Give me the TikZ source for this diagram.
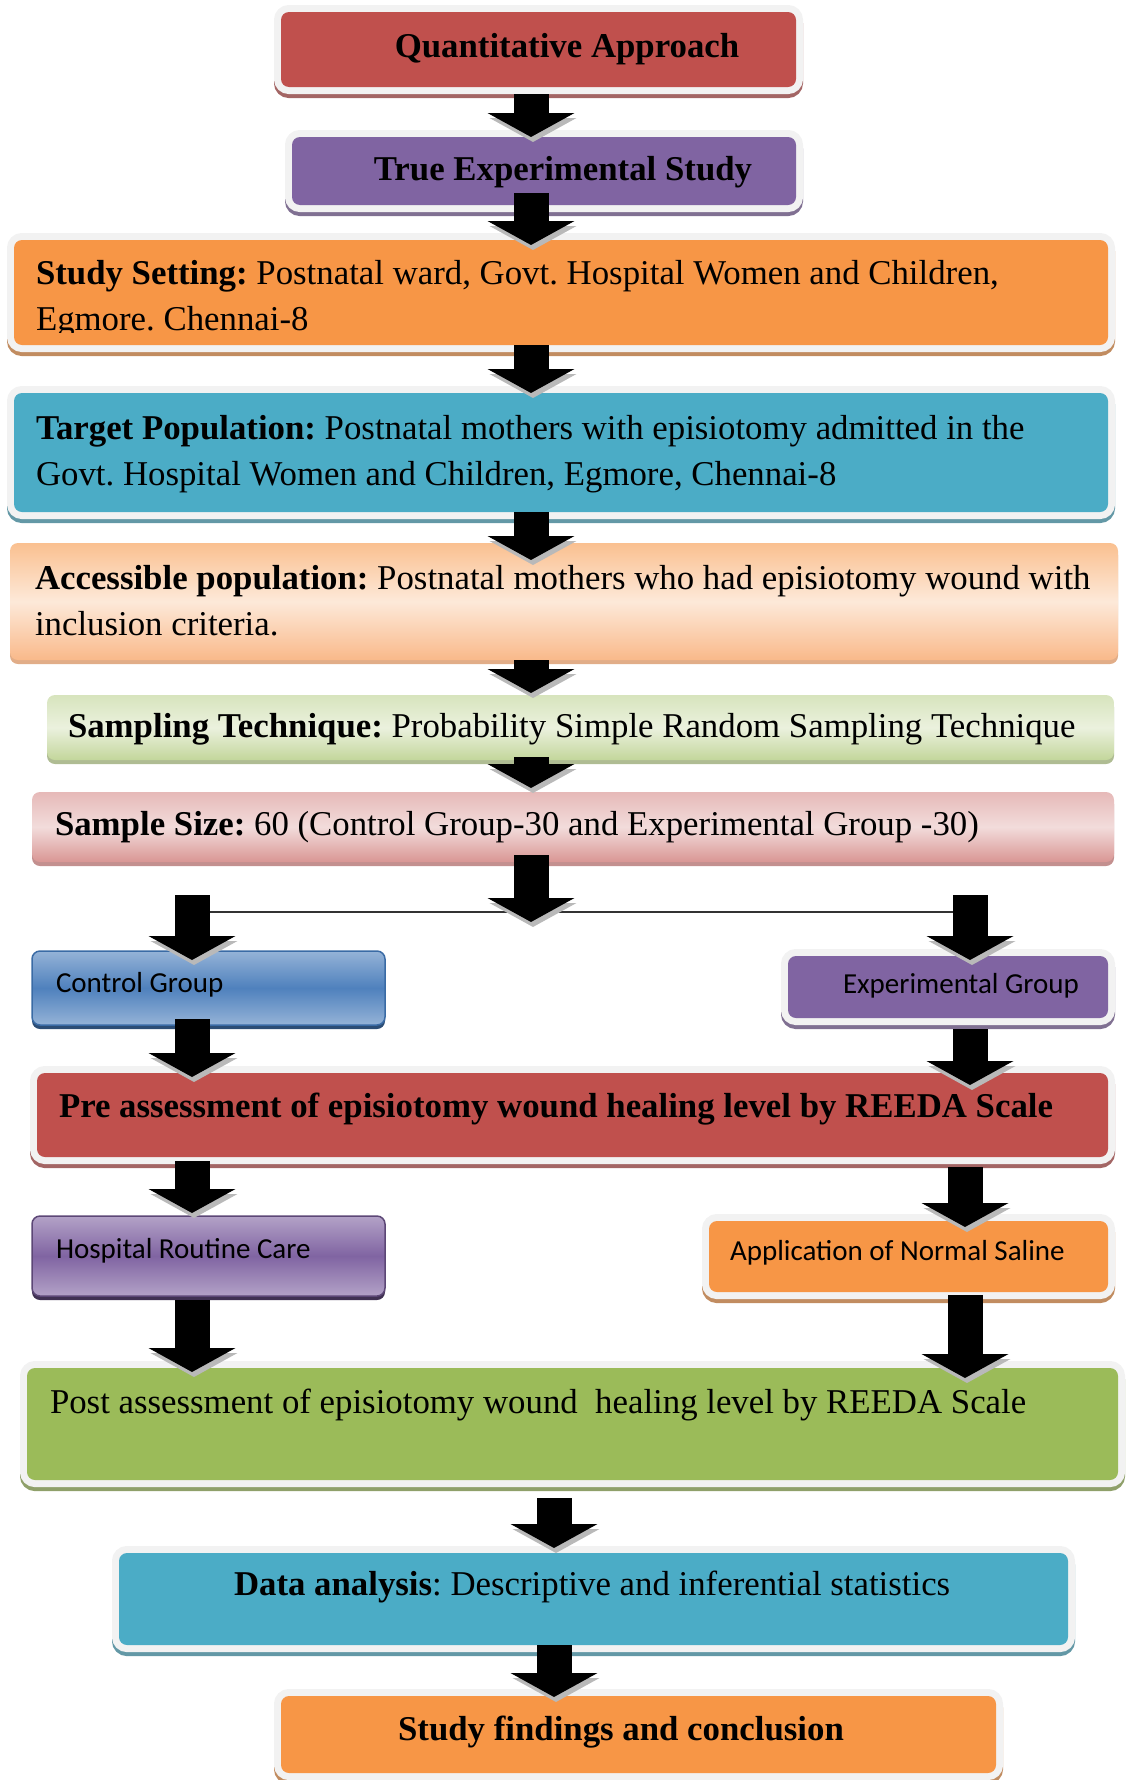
\documentclass[tikz,border=0pt]{standalone}
\usepackage{fontspec}
\setmainfont{Liberation Serif}
\newfontfamily\calibri{Carlito}
\usetikzlibrary{arrows.meta,calc}
\definecolor{cRed}{HTML}{C0504D}
\definecolor{cPurple}{HTML}{8064A2}
\definecolor{cOrange}{HTML}{F79646}
\definecolor{cCyan}{HTML}{4BACC6}
\definecolor{cGreen}{HTML}{9BBB59}
\definecolor{frameG}{HTML}{F2F2F2}
\definecolor{accTop}{HTML}{FAC090}
\definecolor{accMid}{HTML}{FDE9D9}
\definecolor{accBot}{HTML}{F9B98A}
\definecolor{smpTop}{HTML}{D7E4BD}
\definecolor{smpMid}{HTML}{EBF1DE}
\definecolor{smpBot}{HTML}{C3D69B}
\definecolor{sizTop}{HTML}{E6B9B8}
\definecolor{sizMid}{HTML}{F2DCDB}
\definecolor{sizBot}{HTML}{D99694}
\definecolor{ctlLight}{HTML}{95B3D7}
\definecolor{ctlDark}{HTML}{4F81BD}
\definecolor{ctlLine}{HTML}{3A6BA5}
\definecolor{ctlShadow}{HTML}{2C4D75}
\definecolor{hosLight}{HTML}{B3A2C7}
\definecolor{hosLine}{HTML}{5C4776}
\definecolor{hosShadow}{HTML}{403152}
\newcommand\mytsz{\fontsize{34.8}{46}\selectfont\frenchspacing}
\newcommand\mysfsz{\calibri\fontsize{29}{35}\selectfont}
\begin{document}
\begin{tikzpicture}[x=1pt,y=-1pt,
  box/.style={rounded corners=8pt, inner sep=0pt, outer sep=0pt},
  framed/.style={preaction={draw=#1, line width=14pt, transform canvas={yshift=-4pt}},
                 preaction={draw=frameG, line width=14pt}},
  plainshadow/.style={preaction={fill=#1, transform canvas={yshift=-4pt}}},
  txt/.style={inner sep=0pt, outer sep=0pt, anchor=base west, font=\mytsz},
  mtxt/.style={txt, align=left},
  stxt/.style={inner sep=0pt, outer sep=0pt, anchor=base west, font=\mysfsz},
  barrow/.style={line width=35pt, -{Triangle[width=86pt,length=24pt]},
                 preaction={draw=gray!55, transform canvas={xshift=2pt,yshift=-5pt}}},
  branch/.style={draw=black!80, line width=2pt}]
\useasboundingbox (0,0) rectangle (1125,1780);

% boxes
\node[box, framed=cRed!55!gray, fill=cRed, minimum width=515pt, minimum height=75pt] (q) at (538.5,49.5) {};
\node[box, framed=cPurple!55!gray, fill=cPurple, minimum width=504pt, minimum height=68pt] (t) at (544,171) {};
\node[box, framed=cOrange!55!gray, fill=cOrange, minimum width=1094pt, minimum height=105pt] (s) at (561,292.5) {};
\node[box, framed=cCyan!55!gray, fill=cCyan, minimum width=1094pt, minimum height=119pt] (tp) at (561,452.5) {};
\node[box, plainshadow=accBot!80!gray, top color=accTop, bottom color=accBot, middle color=accMid, minimum width=1108pt, minimum height=117pt] (acc) at (564,601.5) {};
\node[box, plainshadow=smpBot!70!gray, top color=smpTop, bottom color=smpBot, middle color=smpMid, minimum width=1067pt, minimum height=65pt] (samp) at (580.5,727.5) {};
\node[box, plainshadow=sizBot!75!gray, top color=sizTop, bottom color=sizBot, middle color=sizMid, minimum width=1082pt, minimum height=70pt] (size) at (573,827) {};
\node[box, plainshadow=ctlShadow, draw=ctlLine, line width=1.5pt, top color=ctlLight, bottom color=ctlLight, middle color=ctlDark, minimum width=353pt, minimum height=74pt] (ctrl) at (208.5,988) {};
\node[box, framed=cPurple!55!gray, fill=cPurple, minimum width=320pt, minimum height=62pt] (exp) at (948,987) {};
\node[box, framed=cRed!55!gray, fill=cRed, minimum width=1071pt, minimum height=84pt] (pre) at (572.5,1115) {};
\node[box, plainshadow=hosShadow, draw=hosLine, line width=1.5pt, top color=hosLight, bottom color=hosLight, middle color=cPurple, minimum width=353pt, minimum height=80pt] (hosp) at (208.5,1256) {};
\node[box, framed=cOrange!55!gray, fill=cOrange, minimum width=399pt, minimum height=71pt] (app) at (908.5,1256.5) {};
\node[box, framed=cGreen!55!gray, fill=cGreen, minimum width=1091pt, minimum height=112pt] (post) at (572.5,1424) {};
\node[box, framed=cCyan!55!gray, fill=cCyan, minimum width=949pt, minimum height=92pt] (data) at (593.5,1599) {};
\node[box, framed=cOrange!55!gray, fill=cOrange, minimum width=715pt, minimum height=77pt] (find) at (638.5,1734.5) {};

% texts (multi-line nodes: base anchor is the last line's baseline)
\node[txt, anchor=base, font=\mytsz\bfseries] (qtx) at (567,57) {Quantitative Approach};
\node[txt, anchor=base, font=\mytsz\bfseries] (ttx) at (563,180) {True Experimental Study};
\begin{scope}
\clip (14,240) rectangle (1108,332);
\node[mtxt] (stx) at (36,330) {\textbf{Study Setting:} Postnatal ward, Govt. Hospital Women and Children,\\ Egmore. Chennai-8};
\end{scope}
\node[mtxt] (tptx) at (36,485) {\textbf{Target Population:} Postnatal mothers with episiotomy admitted in the\\ Govt. Hospital Women and Children, Egmore, Chennai-8};
\node[mtxt] (acctx) at (35,635) {\textbf{Accessible population:} Postnatal mothers who had episiotomy wound with\\ inclusion criteria.};
\node[txt] (samptx) at (68,737) {\textbf{Sampling Technique:} Probability Simple Random Sampling Technique};
\node[txt] (sizetx) at (55,835) {\textbf{Sample Size:} 60 (Control Group-30 and Experimental Group -30)};
\node[stxt] (ctrltx) at (56,992) {Control Group};
\node[stxt] (exptx) at (843,993) {Experimental Group};
\node[txt, font=\mytsz\bfseries] (pretx) at (59,1117) {Pre assessment of episiotomy wound healing level by REEDA Scale};
\node[stxt] (hosptx) at (56,1258) {Hospital Routine Care};
\node[stxt] (apptx) at (730,1260) {Application of Normal Saline};
\node[txt] (posttx) at (50,1413) {Post assessment of episiotomy wound\ \ healing level by REEDA Scale};
\node[txt] (datatx) at (234,1595) {\textbf{Data analysis}: Descriptive and inferential statistics};
\node[txt, anchor=base, font=\mytsz\bfseries] (findtx) at (621,1740) {Study findings and conclusion};

% connectors
\coordinate (sp) at (531,0);
\coordinate (sp2) at (554,0);
\coordinate (rc) at (965,0);
\coordinate (brL) at (192,912);
\coordinate (brR) at (970,912);
\coordinate (split) at (531,912);

\draw[branch] (brL) -- (brR);

\draw[barrow] ($(q.south -| sp)+(0,7)$) -- (t.north -| sp);
\draw[barrow] ($(t.south -| sp)+(0,-12)$) -- ($(s.north -| sp)+(0,5)$);
\draw[barrow] (s.south -| sp) -- (tp.north -| sp);
\draw[barrow] (tp.south -| sp) -- ($(acc.north -| sp)+(0,17)$);
\draw[barrow] (acc.south -| sp) -- ($(samp.north -| sp)+(0,-2)$);
\draw[barrow] ($(samp.south -| sp)+(0,-3)$) -- ($(size.north -| sp)+(0,-4)$);
\draw[barrow] ($(size.south -| sp)+(0,-7)$) -- ($(split)+(0,10)$);
\draw[barrow] ($(brL)+(0,-17)$) -- ($(ctrl.north -| brL)+(0,9)$);
\draw[barrow] ($(brR)+(0,-17)$) -- ($(exp.north -| brR)+(0,4)$);
\draw[barrow] ($(ctrl.south -| brL)+(0,-6)$) -- ($(pre.north -| brL)+(0,4)$);
\draw[barrow] ($(exp.south -| brR)+(0,11)$) -- ($(pre.north -| brR)+(0,12)$);
\draw[barrow] ($(pre.south -| brL)+(0,4)$) -- ($(hosp.north -| brL)+(0,-3)$);
\draw[barrow] ($(pre.south -| rc)+(0,10)$) -- ($(app.north -| rc)+(0,6)$);
\draw[barrow] ($(hosp.south -| brL)+(0,4)$) -- ($(post.north -| brL)+(0,4)$);
\draw[barrow] ($(app.south -| rc)+(0,3)$) -- ($(post.north -| rc)+(0,10)$);
\draw[barrow] ($(post.south -| sp2)+(0,18)$) -- ($(data.north -| sp2)+(0,-5)$);
\draw[barrow] (data.south -| sp2) -- ($(find.north -| sp2)+(0,1)$);
\end{tikzpicture}
\end{document}
